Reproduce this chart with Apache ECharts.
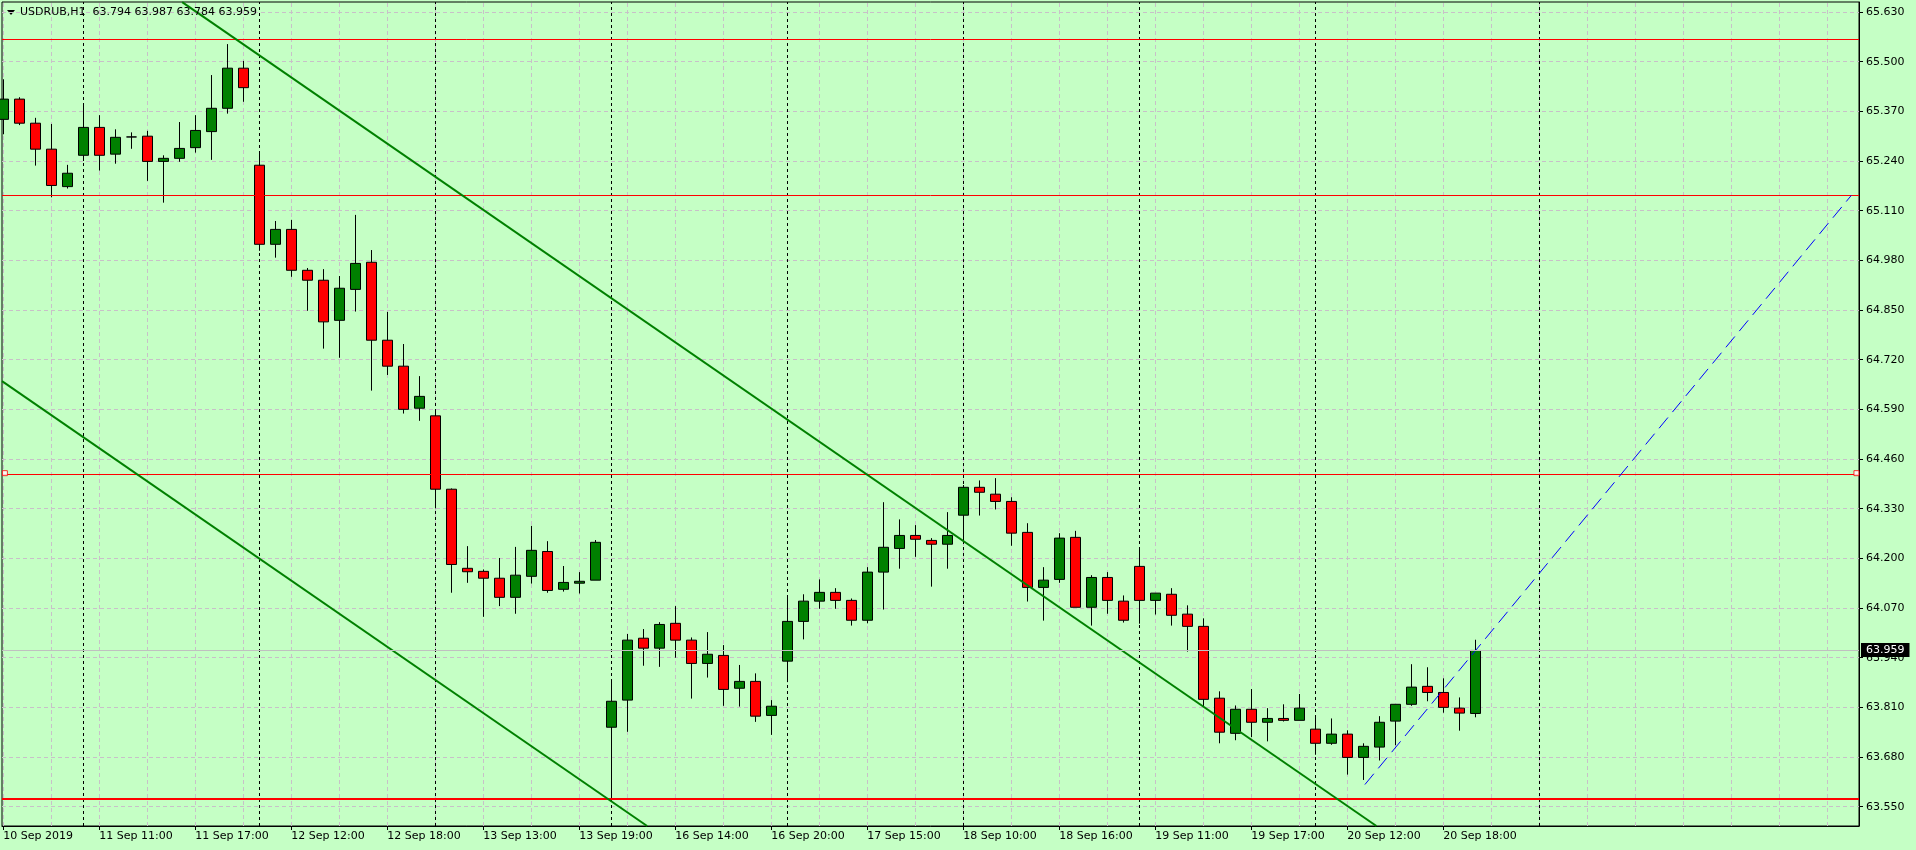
<!DOCTYPE html>
<html><head><meta charset="utf-8">
<script src="https://cdn.jsdelivr.net/npm/echarts@6/dist/echarts.min.js"></script>
<style>html,body{margin:0;padding:0;background:#c5ffc5;}#c{width:1916px;height:850px;}</style>
</head><body><div id="c"></div>
<script>
// ---------- data ----------
const symbolName = 'USDRUB,H1';
const timeLabels = ['10 Sep 2019','11 Sep 11:00','11 Sep 17:00','12 Sep 12:00','12 Sep 18:00','13 Sep 13:00','13 Sep 19:00','16 Sep 14:00','16 Sep 20:00','17 Sep 15:00','18 Sep 10:00','18 Sep 16:00','19 Sep 11:00','19 Sep 17:00','20 Sep 12:00','20 Sep 18:00'];
const labelEvery = 6;
const opens = [65.349,65.402,65.339,65.271,65.173,65.255,65.328,65.258,65.303,65.305,
65.239,65.247,65.275,65.317,65.378,65.483,65.229,65.022,65.061,64.954,
64.928,64.823,64.904,64.975,64.771,64.703,64.593,64.573,64.381,64.174,
64.166,64.148,64.098,64.153,64.218,64.119,64.135,64.143,63.758,63.829,
63.991,63.965,64.030,63.986,63.925,63.946,63.860,63.878,63.789,63.931,
64.035,64.088,64.111,64.090,64.038,64.164,64.226,64.260,64.247,64.237,
64.313,64.386,64.368,64.349,64.268,64.124,64.145,64.255,64.072,64.150,
64.088,64.179,64.090,64.106,64.054,64.022,63.834,63.742,63.805,63.771,
63.781,63.776,63.753,63.716,63.740,63.679,63.706,63.774,63.818,63.865,
63.849,63.808,63.794];
const closes = [65.402,65.339,65.271,65.176,65.208,65.328,65.255,65.302,65.303,65.239,
65.247,65.273,65.320,65.378,65.483,65.432,65.022,65.061,64.954,64.928,
64.819,64.907,64.972,64.771,64.703,64.590,64.624,64.381,64.184,64.165,
64.148,64.098,64.156,64.221,64.116,64.137,64.140,64.242,63.826,63.986,
63.965,64.027,63.986,63.925,63.949,63.857,63.878,63.787,63.813,64.035,
64.088,64.111,64.090,64.038,64.164,64.229,64.260,64.250,64.237,64.260,
64.386,64.373,64.349,64.266,64.124,64.143,64.253,64.072,64.150,64.090,
64.038,64.090,64.109,64.051,64.022,63.831,63.745,63.805,63.771,63.781,
63.776,63.808,63.716,63.740,63.679,63.708,63.771,63.818,63.863,63.849,
63.810,63.795,63.959];
const highs = [65.454,65.407,65.353,65.337,65.230,65.391,65.360,65.323,65.315,65.319,
65.255,65.342,65.360,65.465,65.546,65.502,65.263,65.083,65.086,64.960,
64.957,64.939,65.099,65.007,64.845,64.761,64.677,64.588,64.383,64.232,
64.171,64.201,64.230,64.285,64.245,64.180,64.164,64.248,63.881,64.002,
64.015,64.033,64.075,63.993,64.007,63.973,63.921,63.899,63.829,64.101,
64.106,64.145,64.122,64.095,64.177,64.347,64.302,64.287,64.253,64.321,
64.392,64.404,64.410,64.360,64.292,64.177,64.266,64.272,64.156,64.164,
64.103,64.226,64.109,64.122,64.077,64.043,63.852,63.815,63.858,63.808,
63.818,63.845,63.787,63.781,63.750,63.716,63.787,63.818,63.923,63.915,
63.886,63.836,63.987];
const lows = [65.310,65.334,65.228,65.145,65.168,65.240,65.215,65.233,65.272,65.188,
65.131,65.238,65.262,65.243,65.364,65.395,65.005,64.987,64.937,64.848,
64.749,64.725,64.846,64.639,64.680,64.579,64.560,64.331,64.110,64.136,
64.047,64.075,64.055,64.134,64.110,64.113,64.108,64.143,63.568,63.746,
63.919,63.916,63.940,63.833,63.888,63.814,63.812,63.772,63.738,63.876,
63.988,64.068,64.068,64.024,64.030,64.066,64.173,64.204,64.126,64.173,
64.239,64.312,64.328,64.233,64.087,64.037,64.136,64.072,64.024,64.055,
64.032,64.029,64.053,64.024,63.956,63.812,63.716,63.724,63.732,63.721,
63.773,63.776,63.686,63.712,63.634,63.620,63.671,63.711,63.814,63.826,
63.796,63.749,63.784];
const priceTicks = [63.55,63.68,63.81,63.94,64.07,64.20,64.33,64.46,64.59,64.72,64.85,64.98,65.11,65.24,65.37,65.50,65.63];
const daySeparators = [5,16,27,38,49,60,71,82,96];
const redLevels = [65.564, 65.148, 64.423];
const supportLevel = 63.566;
const upperChannel = [[11.18,65.656],[85.82,63.4995]];
const lowerChannel = [[-0.08,64.664],[40.24,63.4995]];
const blueTrend = [[85.1,63.608],[115.5,65.150]];

// ---------- chart ----------
const BG = '#c5ffc5';
const FONT = 'DejaVu Sans';
const xMin = -0.08, xMax = 115.98;
const yMin = 63.4995, yMax = 65.6562;
const nBars = opens.length;
const bid = closes[nBars - 1];
const tickIdx = timeLabels.map((_, i) => i * labelEvery);
const gridBars = [];
for (let k = 0; k <= 114; k += 3) gridBars.push(k);

const candles = opens.map((o, i) => [i, o, closes[i], lows[i], highs[i]]);
const markedLevel = redLevels[2];

const chart = echarts.init(document.getElementById('c'), null, {renderer: 'canvas'});
chart.setOption({
  backgroundColor: BG,
  animation: false,
  title: {
    text: symbolName + '  ' + [opens[nBars-1], highs[nBars-1], lows[nBars-1], closes[nBars-1]].map(v => v.toFixed(3)).join(' '),
    left: 20, top: 7, padding: 0,
    textStyle: {fontSize: 11, fontWeight: 'normal', color: '#000', fontFamily: FONT}
  },
  graphic: [{type: 'polygon', shape: {points: [[7,10],[15,10],[11,15]]}, style: {fill: '#000'}, silent: true}],
  grid: {left: 2, right: 57, top: 2, bottom: 24, show: true, borderColor: '#000', borderWidth: 1, backgroundColor: BG},
  xAxis: {
    type: 'value', min: xMin, max: xMax,
    axisLine: {show: true, onZero: false, lineStyle: {color: '#000', width: 1}},
    axisTick: {show: true, length: 4, customValues: tickIdx, lineStyle: {color: '#000'}},
    axisLabel: {customValues: tickIdx, formatter: v => timeLabels[Math.round(v / labelEvery)] || '', align: 'left', margin: 5,
      fontSize: 11, color: '#000', fontFamily: FONT},
    splitLine: {show: false}
  },
  yAxis: {
    type: 'value', position: 'right', min: yMin, max: yMax, scale: true,
    axisLine: {show: true, onZero: false, lineStyle: {color: '#000', width: 1}},
    axisTick: {show: true, length: 4, customValues: priceTicks, lineStyle: {color: '#000'}},
    axisLabel: {customValues: priceTicks, formatter: v => v.toFixed(3), margin: 7, fontSize: 11, color: '#000', fontFamily: FONT},
    splitLine: {show: false}
  },
  series: [
    { // grid
      type: 'line', data: [], silent: true, z: 1,
      markLine: {silent: true, z: 1, symbol: ['none','none'], label: {show: false}, animation: false,
        lineStyle: {color: '#c8c0c8', type: [4,3], width: 1},
        data: gridBars.map(k => ({xAxis: k})).concat(priceTicks.map(v => ({yAxis: v})))}
    },
    { // day separators
      type: 'line', data: [], silent: true, z: 1,
      markLine: {silent: true, z: 1, symbol: ['none','none'], label: {show: false}, animation: false,
        lineStyle: {color: '#000', type: [3,3], width: 1},
        data: daySeparators.map(k => ({xAxis: k}))}
    },
    { // bid line
      type: 'line', data: [], silent: true, z: 1,
      markLine: {silent: true, z: 7, symbol: ['none','none'], animation: false,
        lineStyle: {color: '#c0c0c0', type: 'solid', width: 1},
        label: {show: true, position: 'end', distance: 2, formatter: () => bid.toFixed(3),
          backgroundColor: '#000', color: '#fff', padding: [2,5,1,5], fontSize: 11, fontFamily: FONT},
        data: [{yAxis: bid}]}
    },
    {
      type: 'candlestick', z: 2, clip: true, silent: true,
      encode: {x: 0, y: [1,2,3,4]},
      barWidth: 10,
      itemStyle: {color: '#008000', color0: '#ff0000', borderColor: '#000', borderColor0: '#000', borderWidth: 1},
      data: candles
    },
    { // red levels
      type: 'line', data: [], silent: true, z: 3,
      markLine: {silent: true, z: 3, symbol: ['none','none'], label: {show: false}, animation: false,
        lineStyle: {color: '#ff0000', type: 'solid', width: 1},
        data: redLevels.map(v => ({yAxis: v})).concat([{yAxis: supportLevel, lineStyle: {width: 2}}])}
    },
    {
      type: 'scatter', z: 4, silent: true, symbol: 'rect', symbolSize: 5,
      itemStyle: {color: '#ffffff', borderColor: '#ff0000', borderWidth: 1},
      data: [[xMin + 0.18, markedLevel], [xMax - 0.16, markedLevel]]
    },
    {type: 'line', z: 5, silent: true, clip: true, symbol: 'none', showSymbol: false,
      lineStyle: {color: '#008000', width: 2}, data: upperChannel},
    {type: 'line', z: 5, silent: true, clip: true, symbol: 'none', showSymbol: false,
      lineStyle: {color: '#008000', width: 2}, data: lowerChannel},
    {type: 'line', z: 5, silent: true, clip: true, symbol: 'none', showSymbol: false,
      lineStyle: {color: '#0000ff', width: 1, type: [14,7]}, data: blueTrend}
  ]
});
</script>
</body></html>
